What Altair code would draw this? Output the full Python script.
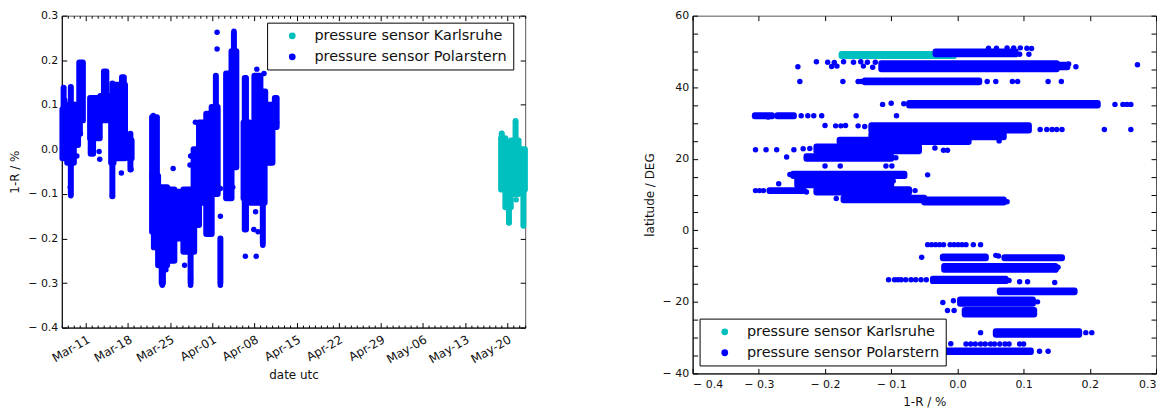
import json
import altair as alt
import pandas as pd

# ---------------- data ----------------
KARLSRUHE = "pressure sensor Karlsruhe"
POLARSTERN = "pressure sensor Polarstern"
SERIES = [KARLSRUHE, POLARSTERN]
COLORS = ["#00BFBF", "#0000FF"]

# day numbers counted from March (32 = Apr-01, 62 = May-01)
DATE_TICKS = [11, 18, 25, 32, 39, 46, 53, 60, 67, 74, 81]
DATE_LABELS = ["Mar-11", "Mar-18", "Mar-25", "Apr-01", "Apr-08", "Apr-15",
               "Apr-22", "Apr-29", "May-06", "May-13", "May-20"]
DAY_MINOR = [d for d in range(7, 85) if d not in DATE_TICKS]
R_TICKS = [-0.4, -0.3, -0.2, -0.1, 0.0, 0.1, 0.2, 0.3]
LAT_LABELS = [-40, -20, 0, 20, 40, 60]
LAT_TICKS = list(range(-40, 61, 5))

# left panel: dense runs of points (day from, day to, 1-R low, 1-R high)
LEFT_POLAR_RUNS = [
    (7.1, 7.8, -0.02, 0.09), (7.3, 7.3, 0.09, 0.138), (7.9, 9.0, -0.03, 0.10),
    (8.5, 8.5, -0.10, 0.14), (9.0, 9.7, 0.01, 0.10), (9.9, 10.5, 0.065, 0.195),
    (10.0, 10.0, 0.035, 0.065), (11.7, 13.3, 0.025, 0.115), (11.8, 12.2, -0.01, 0.025),
    (13.4, 14.9, 0.065, 0.12), (14.0, 14.4, 0.12, 0.175), (15.2, 15.6, -0.03, 0.10),
    (15.4, 15.4, -0.105, 0.148), (15.8, 17.5, -0.02, 0.145), (17.0, 17.3, 0.145, 0.162),
    (18.2, 18.6, -0.02, 0.02), (18.4, 18.4, -0.045, 0.035),
    (22.0, 22.8, -0.06, 0.072), (22.0, 22.9, -0.185, -0.06), (22.3, 23.0, -0.22, -0.06),
    (23.0, 24.5, -0.26, -0.085), (23.6, 23.8, -0.30, -0.26), (24.5, 25.7, -0.25, -0.09),
    (26.0, 26.6, -0.20, -0.095), (27.2, 29.0, -0.23, -0.09), (28.4, 28.4, -0.30, -0.23),
    (28.9, 29.8, -0.17, 0.0), (29.8, 31.0, -0.12, 0.06), (31.0, 31.9, -0.19, 0.08),
    (31.9, 32.9, -0.10, 0.095), (32.6, 32.6, 0.095, 0.165), (33.35, 33.35, -0.30, -0.20),
    (34.3, 35.2, -0.11, 0.17), (35.2, 36.0, -0.04, 0.22), (35.6, 35.6, 0.22, 0.26),
    (37.4, 37.6, -0.18, 0.16), (37.2, 38.2, -0.11, 0.06), (38.3, 40.7, -0.12, 0.0),
    (39.0, 40.0, 0.0, 0.165), (40.0, 40.8, 0.0, 0.13), (40.4, 40.4, -0.21, -0.11),
    (41.2, 42.0, -0.03, 0.10), (42.4, 42.7, 0.05, 0.115),
]
LEFT_POLAR_DOTS = [
    (7.3, 0.138), (7.5, 0.11), (8.5, -0.104), (8.4, -0.085), (9.5, -0.015), (9.6, 0.035),
    (10.1, 0.035), (13.3, -0.022), (13.2, -0.005), (15.4, -0.105), (16.9, -0.053),
    (18.5, -0.045), (22.2, 0.076), (23.7, -0.305), (24.3, -0.27), (25.5, -0.043),
    (26.5, -0.10), (26.3, -0.2), (27.4, -0.26), (28.4, -0.305), (28.4, -0.29),
    (28.4, -0.015), (28.3, -0.035), (29.2, 0.061), (32.8, 0.263), (32.8, 0.225),
    (33.35, -0.305), (33.35, -0.15), (33.35, -0.088), (34.5, -0.11), (35.6, 0.265),
    (35.4, -0.085), (37.5, -0.24), (37.5, 0.16), (37.5, 0.14), (39.3, -0.24),
    (38.9, -0.18), (39.6, -0.185), (39.2, -0.14), (39.4, 0.18), (40.4, -0.215),
    (40.6, 0.17), (41.6, -0.03), (42.6, 0.115), (42.7, 0.06),
]
LEFT_KARL_RUNS = [
    (80.0, 80.7, -0.09, 0.025), (80.1, 80.1, 0.025, 0.035), (80.7, 81.6, -0.13, 0.0),
    (81.3, 81.3, -0.165, -0.13), (81.6, 82.9, -0.10, 0.02), (82.4, 82.4, 0.02, 0.062),
    (82.9, 83.95, -0.09, 0.0), (83.7, 83.7, -0.17, -0.09),
]
LEFT_KARL_DOTS = [(81.3, -0.165), (82.5, -0.113), (82.4, 0.064), (83.7, -0.172), (80.1, 0.036)]

# right panel: dense runs (1-R from, 1-R to, latitude low, latitude high)
RIGHT_KARL_RUNS = [(-0.175, -0.005, 48.7, 49.3)]
RIGHT_POLAR_RUNS = [
    (-0.033, 0.088, 49.2, 50.0), (-0.115, 0.15, 45.0, 46.7), (0.15, 0.166, 45.6, 46.3),
    (-0.14, 0.033, 41.4, 41.9), (-0.073, 0.212, 34.9, 35.6), (-0.306, -0.28, 31.9, 32.2),
    (-0.272, -0.247, 31.9, 32.2), (-0.13, 0.108, 27.9, 29.4), (-0.13, 0.07, 26.0, 26.9),
    (-0.178, 0.017, 24.7, 25.3), (-0.213, -0.058, 22.1, 23.4), (-0.228, -0.10, 20.0, 20.7),
    (-0.248, -0.08, 15.2, 15.8), (-0.242, -0.10, 12.6, 15.2), (-0.213, -0.073, 10.6, 11.5),
    (-0.284, -0.232, 11.0, 11.2), (-0.172, -0.05, 8.4, 9.1), (-0.05, 0.07, 7.8, 8.6),
    (-0.022, 0.043, -7.8, -7.3), (0.071, 0.158, -7.8, -7.5), (-0.02, 0.148, -11.0, -10.0),
    (-0.037, 0.073, -14.2, -13.5), (0.064, 0.177, -17.3, -16.8), (0.004, 0.114, -20.5, -19.3),
    (0.011, 0.116, -23.5, -22.3), (0.058, 0.184, -29.2, -28.2), (-0.02, 0.111, -34.0, -33.6),
]
RIGHT_POLAR_DOTS = [
    (0.047, 50.9), (0.059, 50.9), (0.075, 51.0), (0.085, 51.0), (0.095, 51.0), (0.105, 50.9),
    (0.112, 50.8), (0.094, 49.2), (0.108, 49.2),
    (-0.213, 47.1), (-0.196, 47.0), (-0.186, 46.9), (-0.172, 47.1), (-0.157, 47.0),
    (-0.146, 47.1), (-0.136, 47.0), (-0.124, 47.0), (-0.19, 45.8), (-0.182, 45.9),
    (-0.142, 45.9), (-0.128, 45.6), (-0.241, 45.7), (0.179, 45.7), (0.272, 46.3), (0.168, 46.5),
    (-0.238, 41.6), (-0.173, 41.6), (-0.15, 41.6), (-0.146, 41.6), (0.045, 41.6), (0.058, 41.6),
    (0.083, 41.6), (0.091, 41.6), (0.137, 41.6), (0.157, 41.6),
    (-0.113, 35.2), (-0.1, 35.5), (-0.081, 35.4), (0.238, 35.2), (0.25, 35.2), (0.256, 35.2),
    (0.262, 35.2),
    (-0.236, 32.0), (-0.226, 32.0), (-0.217, 32.0), (-0.205, 32.0), (-0.153, 32.0),
    (-0.092, 32.0), (-0.286, 31.7),
    (-0.2, 29.3), (-0.184, 29.2), (-0.176, 29.2), (-0.169, 29.3), (-0.15, 29.2), (-0.14, 29.0),
    (0.125, 28.2), (0.135, 28.2), (0.143, 28.2), (0.15, 28.2), (0.158, 28.2), (0.222, 28.2),
    (0.262, 28.2), (0.063, 25.0),
    (-0.305, 22.5), (-0.289, 22.5), (-0.273, 22.5), (-0.247, 22.5), (-0.233, 22.8),
    (-0.223, 22.9), (-0.034, 23.0), (-0.021, 22.4), (-0.015, 22.4),
    (-0.258, 20.5), (-0.093, 20.3),
    (-0.2, 18.0), (-0.177, 18.0), (-0.108, 18.0), (-0.099, 18.0),
    (-0.045, 15.5), (-0.253, 15.6), (-0.27, 13.0), (-0.11, 13.3), (-0.097, 13.8),
    (-0.305, 11.1), (-0.299, 11.1), (-0.293, 11.1), (-0.228, 10.7), (-0.064, 11.1),
    (-0.183, 8.9), (0.075, 8.0),
    (-0.045, -4.0), (-0.039, -4.0), (-0.033, -4.0), (-0.027, -4.0), (-0.021, -4.0),
    (-0.011, -4.0), (-0.005, -4.0), (0.001, -4.0), (0.007, -4.0), (0.013, -4.0),
    (0.024, -4.0), (0.035, -4.0),
    (-0.054, -7.5), (0.058, -7.0), (0.062, -7.2), (0.152, -10.3), (0.149, -11.0),
    (-0.104, -13.8), (-0.095, -13.8), (-0.09, -13.8), (-0.085, -13.8), (-0.078, -13.8),
    (-0.07, -13.8), (-0.063, -13.8), (-0.055, -13.8), (-0.047, -13.8),
    (0.078, -14.0), (0.094, -14.4), (0.106, -14.4), (0.147, -14.6),
    (-0.022, -20.2), (-0.006, -19.7), (0.121, -20.0), (-0.015, -22.4), (-0.005, -22.4),
    (0.035, -28.6), (0.194, -28.6), (0.203, -28.6),
    (-0.01, -31.7), (0.013, -31.8), (0.02, -31.8), (0.027, -31.8), (0.035, -31.8),
    (0.042, -31.8), (0.05, -31.8), (0.056, -31.8), (0.064, -31.8), (0.072, -31.8),
    (0.078, -31.8), (0.094, -31.8), (0.1, -31.8),
    (0.124, -33.8), (0.137, -33.8),
]

# ---------------- tables ----------------
def runs_table(groups):
    rows = []
    for sensor, runs in groups:
        for a, b, lo, hi in runs:
            rows.append({"a": a, "b": b, "lo": lo, "hi": hi, "sensor": sensor})
    return pd.DataFrame(rows)


def dots_table(groups):
    rows = []
    for sensor, dots in groups:
        for u, v in dots:
            rows.append({"u": u, "v": v, "sensor": sensor})
    return pd.DataFrame(rows)


left_runs = runs_table([(KARLSRUHE, LEFT_KARL_RUNS), (POLARSTERN, LEFT_POLAR_RUNS)])
left_dots = dots_table([(KARLSRUHE, LEFT_KARL_DOTS), (POLARSTERN, LEFT_POLAR_DOTS)])
right_runs = runs_table([(KARLSRUHE, RIGHT_KARL_RUNS), (POLARSTERN, RIGHT_POLAR_RUNS)])
right_dots = dots_table([(POLARSTERN, RIGHT_POLAR_DOTS)])

# ---------------- chart ----------------
FONT = "DejaVu Sans"
DOT = 6
DOT_AREA = 30
W1, H1 = 465, 313
W2, H2 = 465, 359

color_scale = alt.Scale(domain=SERIES, range=COLORS)
date_expr = json.dumps(DATE_LABELS) + "[round((datum.value - 11) / 7)]"
r_expr = "datum.value < -0.0001 ? '\u2212 ' + format(-datum.value, '.1f') : format(datum.value, '.1f')"
lat_expr = "datum.value < 0 ? '\u2212 ' + format(-datum.value, 'd') : format(datum.value, 'd')"


def legend(x, y):
    return alt.Legend(
        orient="none", legendX=x, legendY=y, title=None, fillColor="white",
        strokeColor="black", padding=6, symbolType="circle", symbolSize=28,
        symbolOffset=12, labelOffset=15, labelFont=FONT, labelFontSize=14.5,
        labelColor="#111", labelLimit=400, rowPadding=6,
    )


def tick_axis(orient, offset, values, size):
    return alt.Axis(orient=orient, offset=offset, values=values, labels=False,
                    domain=False, ticks=True, tickSize=size, tickColor="black",
                    tickWidth=1, grid=False)


def panel(runs, dots, xs, ys, W, H, xaxis_main, yaxis_main, x_major, y_major,
          x_minor, leg):
    rects = alt.Chart(runs).mark_rect(strokeWidth=DOT, strokeJoin="round").encode(
        x=alt.X("a:Q", scale=xs, axis=xaxis_main),
        x2="b:Q",
        y=alt.Y("lo:Q", scale=ys, axis=yaxis_main),
        y2="hi:Q",
        color=alt.Color("sensor:N", scale=color_scale, legend=leg),
        stroke=alt.Stroke("sensor:N", scale=color_scale, legend=None),
    )
    pts = alt.Chart(dots).mark_circle(size=DOT_AREA, opacity=1).encode(
        x=alt.X("u:Q", scale=xs, title=None, axis=tick_axis("top", -H, x_major, 5)),
        y=alt.Y("v:Q", scale=ys, title=None, axis=tick_axis("right", -W, y_major, 5)),
        color=alt.Color("sensor:N", scale=color_scale, legend=None),
    )
    hidden = alt.Chart(dots).mark_circle(size=DOT_AREA, opacity=0).encode(
        x=alt.X("u:Q", scale=xs, title=None, axis=tick_axis("bottom", -H, x_major, 5)),
        y=alt.Y("v:Q", scale=ys, title=None, axis=tick_axis("left", -W, y_major, 5)),
    )
    layers = [rects, pts, hidden]
    if x_minor:
        layers.append(alt.Chart(dots).mark_circle(opacity=0).encode(
            x=alt.X("u:Q", scale=xs, title=None, axis=tick_axis("top", -H, x_minor, 2.5)),
            y=alt.Y("v:Q", scale=ys, axis=None),
        ))
        layers.append(alt.Chart(dots).mark_circle(opacity=0).encode(
            x=alt.X("u:Q", scale=xs, title=None, axis=tick_axis("bottom", -H, x_minor, 2.5)),
            y=alt.Y("v:Q", scale=ys, axis=None),
        ))
    return alt.layer(*layers).resolve_axis(x="independent", y="independent").properties(
        width=W, height=H)


left = panel(
    left_runs, left_dots,
    alt.Scale(domain=[7, 84], nice=False, zero=False),
    alt.Scale(domain=[-0.4, 0.3], nice=False, zero=False),
    W1, H1,
    alt.Axis(orient="bottom", values=DATE_TICKS, labelExpr=date_expr, labelAngle=-30,
             labelAlign="right", labelBaseline="top", labelPadding=6, labelFontSize=12,
             labelOverlap=False, ticks=False, title="date utc", titlePadding=4, grid=False),
    alt.Axis(orient="left", values=R_TICKS, labelExpr=r_expr, labelPadding=4, ticks=False,
             title="1-R / %", titlePadding=6, grid=False),
    DATE_TICKS, R_TICKS, DAY_MINOR,
    legend(206, 7),
)

right = panel(
    right_runs, right_dots,
    alt.Scale(domain=[-0.4, 0.3], nice=False, zero=False),
    alt.Scale(domain=[-40, 60], nice=False, zero=False),
    W2, H2,
    alt.Axis(orient="bottom", values=R_TICKS, labelExpr=r_expr, labelPadding=5, ticks=False,
             title="1-R / %", titlePadding=7, grid=False),
    alt.Axis(orient="left", values=LAT_LABELS, labelExpr=lat_expr, labelPadding=4,
             ticks=False, title="latitude / DEG", titlePadding=6, grid=False),
    R_TICKS, LAT_TICKS, None,
    legend(7, 304),
)

chart = (
    alt.hconcat(left, right, spacing=113)
    .resolve_scale(color="independent", stroke="independent")
    .resolve_legend(color="independent")
    .properties(padding=0)
    .configure_view(stroke="#555", strokeWidth=1)
    .configure_axis(labelFont=FONT, labelFontSize=11, labelColor="#111",
                    titleFont=FONT, titleFontSize=12, titleFontWeight="normal",
                    titleColor="#111", domainColor="black", tickColor="black", grid=False)
)

chart.save("out.html", embed_options={"renderer": "svg", "actions": False})
